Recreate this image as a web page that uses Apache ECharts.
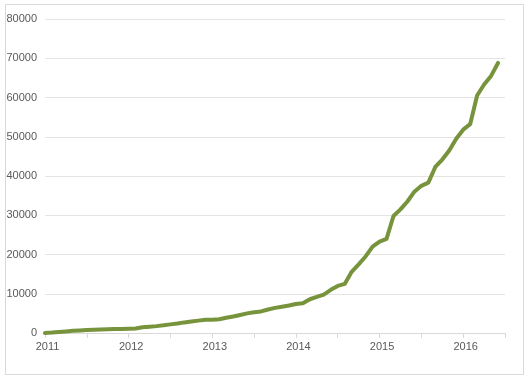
<!DOCTYPE html>
<html>
<head>
<meta charset="utf-8">
<script src="https://cdn.jsdelivr.net/npm/echarts@6/dist/echarts.min.js"></script>
<style>
html,body{margin:0;padding:0;background:#fff;}
#chart{width:529px;height:377px;}
</style>
</head>
<body>
<div id="chart"></div>
<script>
// Monthly dates (YYYY-MM)
var dates = [
 '2011-01','2011-02','2011-03','2011-04','2011-05','2011-06','2011-07','2011-08','2011-09','2011-10','2011-11','2011-12',
 '2012-01','2012-02','2012-03','2012-04','2012-05','2012-06','2012-07','2012-08','2012-09','2012-10','2012-11','2012-12',
 '2013-01','2013-02','2013-03','2013-04','2013-05','2013-06','2013-07','2013-08','2013-09','2013-10','2013-11','2013-12',
 '2014-01','2014-02','2014-03','2014-04','2014-05','2014-06','2014-07','2014-08','2014-09','2014-10','2014-11','2014-12',
 '2015-01','2015-02','2015-03','2015-04','2015-05','2015-06','2015-07','2015-08','2015-09','2015-10','2015-11','2015-12',
 '2016-01','2016-02','2016-03','2016-04','2016-05','2016-06'
];
var values = [
 0,100,250,400,550,650,750,850,900,950,1000,1050,
 1100,1150,1450,1600,1750,1950,2200,2400,2700,2950,3150,3350,
 3400,3500,3900,4200,4600,5000,5300,5500,6000,6400,6700,7000,
 7400,7600,8600,9200,9800,11000,12000,12500,15600,17500,19500,22000,
 23300,24000,29800,31500,33500,36000,37500,38300,42300,44200,46500,49500,
 51800,53200,60500,63300,65500,68800
];
var yearLabels = ['2011','2012','2013','2014','2015','2016'];
var yTicks = [0,10000,20000,30000,40000,50000,60000,70000,80000];

function monthIndex(s){
  var p = s.split('-');
  return (parseInt(p[0],10) - 2011) * 12 + (parseInt(p[1],10) - 1);
}
var seriesData = dates.map(function(d,i){ return [monthIndex(d), values[i]]; });

var chart = echarts.init(document.getElementById('chart'), null, {renderer:'canvas'});
chart.setOption({
  animation:false,
  backgroundColor:'#ffffff',
  graphic:[{
    type:'rect', left:3, top:2, z:-1,
    shape:{width:518, height:370},
    style:{fill:'none', stroke:'#d9d9d9', lineWidth:1}
  }],
  grid:{left:45, right:24, top:19, bottom:44, containLabel:false},
  xAxis:{
    type:'value', min:0, max:66, interval:6,
    axisLine:{show:true, lineStyle:{color:'#d9d9d9', width:1}},
    axisTick:{show:true, length:5, lineStyle:{color:'#d9d9d9'}},
    splitLine:{show:false},
    axisLabel:{
      color:'#595959', fontFamily:'Liberation Sans, Arial', fontSize:11, margin:8,
      padding:[0,0,0,5],
      formatter:function(v){ return (v % 12 === 0) ? yearLabels[v/12] || '' : ''; }
    }
  },
  yAxis:{
    type:'value', min:yTicks[0], max:yTicks[yTicks.length-1], interval:10000,
    axisLine:{show:false}, axisTick:{show:false},
    splitLine:{show:true, lineStyle:{color:'#e4e4e4', width:1}},
    axisLabel:{color:'#595959', fontFamily:'Liberation Sans, Arial', fontSize:11, margin:8,
      formatter:function(v){ return String(v); }}
  },
  series:[{
    type:'line',
    data:seriesData,
    showSymbol:false,
    lineStyle:{color:'#77933c', width:4, cap:'round', join:'round'},
    itemStyle:{color:'#77933c'}
  }]
});
</script>
</body>
</html>
